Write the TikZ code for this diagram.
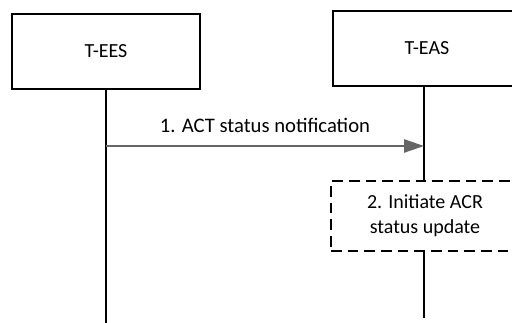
\documentclass[tikz,border=0pt]{standalone}
\usepackage{fontspec}
\setmainfont{Carlito}
\usetikzlibrary{positioning, arrows.meta, calc}

\begin{document}
\begin{tikzpicture}[
    x=0.75pt, y=-0.75pt,
    % Block Styles
    entity/.style={rectangle, draw=black, line width=1.4pt, minimum width=141pt, minimum height=56pt, align=center, font=\fontsize{15}{18}\selectfont},
    action/.style={rectangle, draw=black, line width=1.3pt, dash pattern=on 8pt off 4.5pt, minimum width=141pt, minimum height=52pt, align=center, font=\fontsize{15}{19}\selectfont},
    % Line & Arrow Styles
    lifeline/.style={draw, line width=1.4pt, color=black},
    msg/.style={draw, -{Triangle[length=15pt, width=10pt]}, line width=1.1pt, color=black!60}
]
    \useasboundingbox (0,0) rectangle (512,323);

    % Nodes
    \node [entity] (ees) at (106,51.5) {T-EES};
    \node [entity] (eas) at (427,48.5) {T-EAS};
    \node [action] (initacr) at (425,216) {2. Initiate ACR\\status update};

    % Lifeline end points
    \coordinate (eesend) at (106,323);
    \coordinate (easend) at (424,318);
    \coordinate (eesmsg) at (106,146);
    \coordinate (easmsg) at (424,146);

    % Lifelines
    \draw [lifeline] (ees.south -| eesend) -- (eesend);
    \draw [lifeline] (eas.south -| easend) -- (initacr.north -| easend);
    \draw [lifeline] (initacr.south -| easend) -- (easend);

    % Message
    \draw [msg] (eesmsg) -- node[above=6pt, text=black, font=\fontsize{15.5}{18}\selectfont] {1. ACT status notification} (easmsg);

\end{tikzpicture}
\end{document}
